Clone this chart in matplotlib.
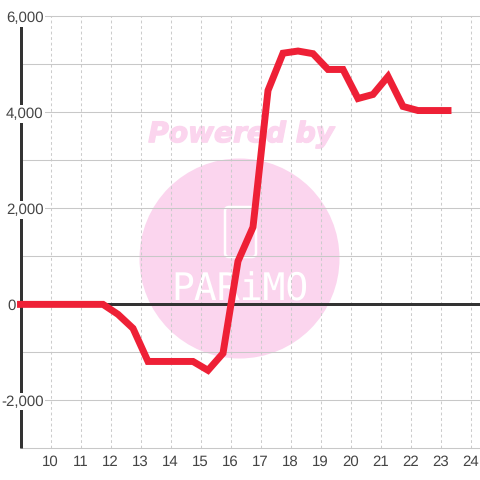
import matplotlib
matplotlib.use('Agg')
import matplotlib.pyplot as plt
import matplotlib.patheffects as pe
from matplotlib.patches import Circle, FancyBboxPatch

hours = [9, 9.25, 9.75, 10.25, 10.75, 11.25, 11.75, 12.25, 12.75, 13.25, 13.75, 14.25, 14.75,
         15.25, 15.75, 16.25, 16.75, 17.25, 17.75, 18.25, 18.75, 19.25, 19.75, 20.25, 20.75,
         21.25, 21.75, 22.25, 22.75, 23.25]
values = [0, 0, 0, 0, 0, 0, 0, -208, -500, -1190, -1190, -1190, -1190,
          -1375, -1020, 900, 1610, 4458, 5235, 5280, 5225, 4896, 4896, 4290, 4375,
          4750, 4125, 4040, 4040, 4040]
x_ticks = list(range(10, 25))
grid_ticks = list(range(-3000, 7000, 1000))
y_ticks = [-2000, 0, 2000, 4000, 6000]
y_labels = ['-2,000', '0', '2,000', '4,000', '6,000']

plt.rcParams['font.family'] = ['Liberation Sans', 'DejaVu Sans']
plt.rcParams['text.hinting'] = 'none'
plt.rcParams['text.hinting_factor'] = 1

fig = plt.figure(figsize=(4.8, 4.8), dpi=100, facecolor='white')

# watermark sits in its own pixel-space axes behind the chart
bg = fig.add_axes([0, 0, 1, 1], zorder=0)
bg.set_xlim(0, 480)
bg.set_ylim(480, 0)
bg.axis('off')
pink = '#fbd5ee'
bg.add_patch(Circle((239.5, 258.5), 100, color=pink, lw=0))
bg.text(241, 134.5, 'Powered by', color=pink, fontsize=20.2, fontweight='bold', fontstyle='italic',
        family='DejaVu Sans', ha='center', va='center',
        path_effects=[pe.withStroke(linewidth=1, foreground=pink)])
bg.add_patch(FancyBboxPatch((225, 207), 31, 50, boxstyle='round,pad=0,rounding_size=4',
                            fc='none', ec='white', lw=1.8))
bg.text(240, 290, 'PARiMO', color='white', fontsize=27, family='DejaVu Sans Mono',
        ha='center', va='center')

ax = fig.add_axes([20.5 / 480, 31.7 / 480, 459.5 / 480, 431.8 / 480], zorder=1)
ax.patch.set_alpha(0)
ax.set_xlim(9, 9 + 459.5 / 30)
ax.set_ylim(-3000, 6000)

for s in ['top', 'right', 'bottom']:
    ax.spines[s].set_visible(False)
ax.spines['left'].set_linewidth(2.16)
ax.spines['left'].set_color('#333333')
ax.spines['left'].set_bounds(-3000, 5833)
ax.spines['left'].set_capstyle('butt')
ax.spines['left'].set_zorder(2)

ax.set_axisbelow(True)
ax.set_yticks(grid_ticks)
ax.set_yticklabels([])
ax.set_xticks(x_ticks)
ax.grid(True, axis='y', color='#c8c8c8', lw=0.75, clip_on=False)
ax.grid(True, axis='x', color='#cccccc', lw=0.75, ls=(0, (2.7, 2.6)))
ax.tick_params(length=0)
ax.tick_params(axis='x', pad=5, labelsize=10.5, labelcolor='#444444')

for v, lab in zip(y_ticks, y_labels):
    # the 0 label is pushed left of the axis
    off = -4.5 if v == 0 else 23
    ax.annotate(lab, (0, v), xycoords=('axes fraction', 'data'), xytext=(off * 0.72, -1),
                textcoords='offset points', ha='right', va='center', fontsize=10.7,
                color='#444444', zorder=5, annotation_clip=False,
                bbox=dict(fc='white', ec='none', pad=1.3))

ax.axhline(0, color='#333333', lw=2.16, zorder=3)
ax.plot(hours, values, color='#ee2036', lw=5, solid_capstyle='projecting',
        solid_joinstyle='miter', clip_on=False, zorder=6)

fig.savefig('out.png', dpi=100)
